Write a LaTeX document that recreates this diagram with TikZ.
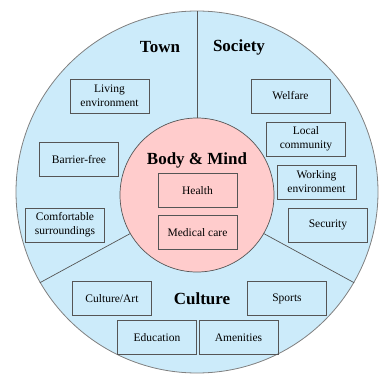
\documentclass[tikz,border=0pt]{standalone}
\usepackage{fontspec}
\setmainfont{Liberation Serif}
\definecolor{skyfill}{HTML}{CCEBFA}
\definecolor{pinkfill}{HTML}{FFCCCC}
\definecolor{edgegray}{HTML}{555555}
\begin{document}
\begin{tikzpicture}[x=1pt,y=-1pt,
  itembox/.style={draw=edgegray,line width=0.8pt,minimum width=79pt,minimum height=34pt,
    inner sep=1pt,align=center,font=\fontsize{11.5}{14}\selectfont},
  headtext/.style={font=\fontsize{17}{20}\selectfont\bfseries},
  divider/.style={draw=edgegray,line width=0.7pt}]
\useasboundingbox (0,0) rectangle (387,374);
\node[circle,draw=gray,line width=0.8pt,fill=skyfill,minimum size=362pt,inner sep=0pt] (outer) at (197,192) {};
\node[circle,draw=edgegray,line width=0.7pt,fill=pinkfill,minimum size=154pt,inner sep=0pt] (inner) at (197,195) {};
\draw[divider] (inner.north) -- (inner.north |- outer.north);
\draw[divider] (inner.210) -- (outer.210);
\draw[divider] (inner.330) -- (outer.330);
\node[headtext] (town) at (160,47) {Town};
\node[headtext] (society) at (239,47) {Society};
\node[headtext] (body) at (197,160) {Body \& Mind};
\node[headtext] (culture) at (202,299) {Culture};
\node[itembox] (living) at (109.5,96) {Living\\environment};
\node[itembox] (welfare) at (290.5,96) {Welfare};
\node[itembox] (barrier) at (79,159.5) {Barrier-free};
\node[itembox] (local) at (306,139) {Local\\community};
\node[itembox] (working) at (316.5,182) {Working\\environment};
\node[itembox] (health) at (197.5,190.5) {Health};
\node[itembox] (medical) at (197.5,232.5) {Medical care};
\node[itembox] (comfort) at (65,225) {Comfortable\\surroundings};
\node[itembox] (security) at (328,225) {Security};
\node[itembox] (art) at (112,298.5) {Culture/Art};
\node[itembox] (sports) at (287,298.5) {Sports};
\node[itembox] (education) at (157,337.5) {Education};
\node[itembox] (amenities) at (238.5,337.5) {Amenities};
\end{tikzpicture}
\end{document}
